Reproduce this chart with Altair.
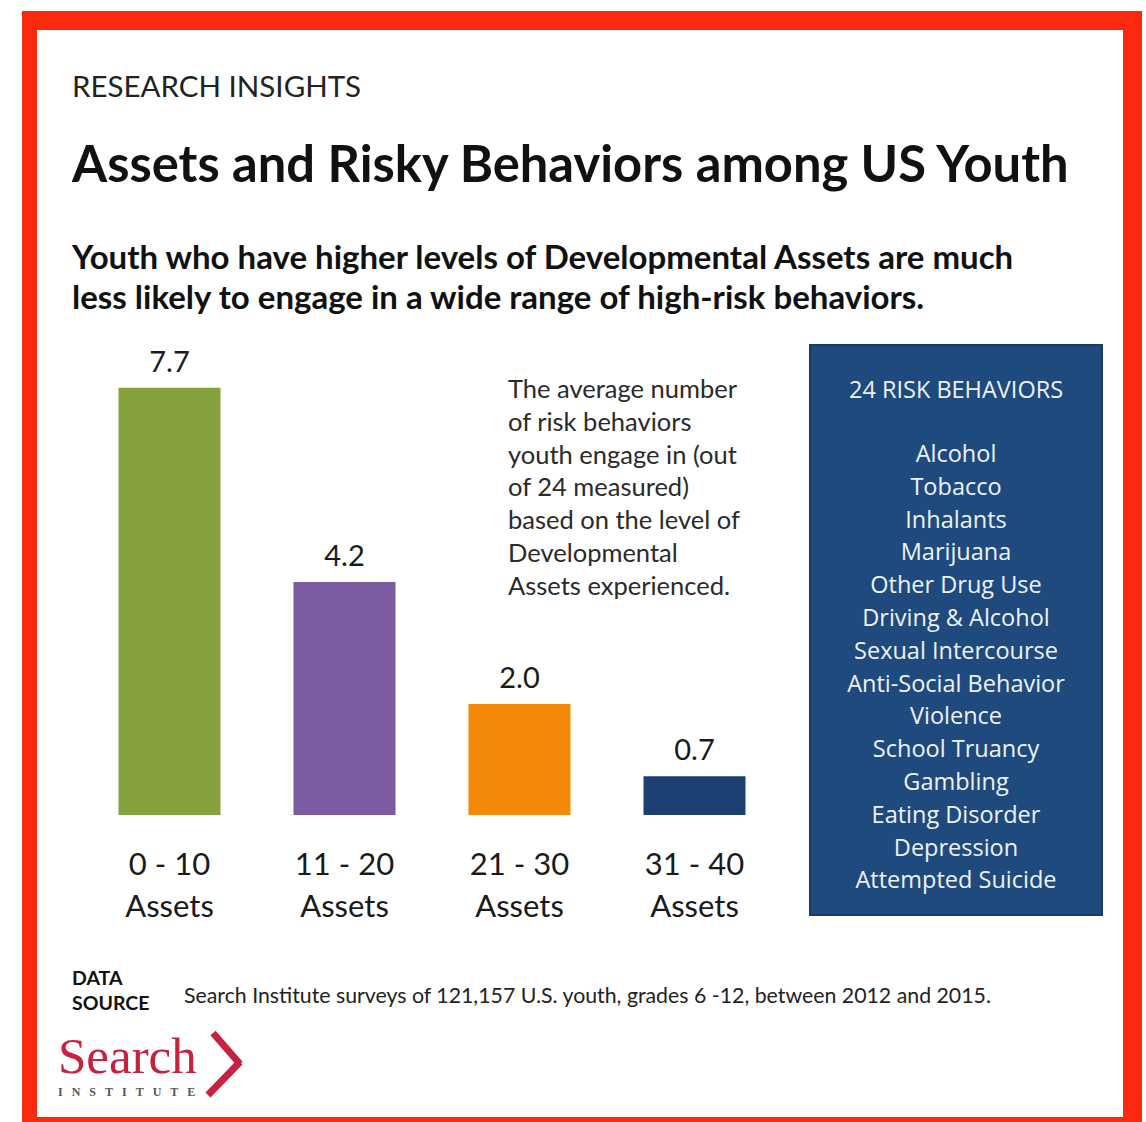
import altair as alt
import pandas as pd

# ---- data ----
groups = ["0 - 10", "11 - 20", "21 - 30", "31 - 40"]
unit_label = ["Assets", "Assets", "Assets", "Assets"]
avg_risk_behaviors = [7.7, 4.2, 2.0, 0.7]
bar_colors = ["#85a23f", "#7b5ca1", "#f48a0a", "#1e3f72"]

risk_behaviors = [
    "Alcohol", "Tobacco", "Inhalants", "Marijuana", "Other Drug Use",
    "Driving & Alcohol", "Sexual Intercourse", "Anti-Social Behavior",
    "Violence", "School Truancy", "Gambling", "Eating Disorder",
    "Depression", "Attempted Suicide",
]

note_lines = [
    "The average number",
    "of risk behaviors",
    "youth engage in (out",
    "of 24 measured)",
    "based on the level of",
    "Developmental",
    "Assets experienced.",
]

kicker = "RESEARCH INSIGHTS"
title = "Assets and Risky Behaviors among US Youth"
subtitle = [
    "Youth who have higher levels of Developmental Assets are much",
    "less likely to engage in a wide range of high-risk behaviors.",
]
source_text = "Search Institute surveys of 121,157 U.S. youth, grades 6 -12, between 2012 and 2015."

df = pd.DataFrame({
    "group": groups,
    "unit": unit_label,
    "value": avg_risk_behaviors,
    "color": bar_colors,
})

SANS = "Lato"
BOX_FONT = "Open Sans"
SERIF = "Liberation Serif"
RED = "#fb2a0e"
CRIMSON = "#c8203f"

one = alt.Data(values=[{}])


def rect(x, x2, y, y2, fill, stroke=None, sw=0):
    kw = dict(fill=fill)
    if stroke:
        kw.update(stroke=stroke, strokeWidth=sw)
    return alt.Chart(one).mark_rect(**kw).encode(
        x=alt.value(x), x2=alt.value(x2), y=alt.value(y), y2=alt.value(y2)
    )


def label(txt, x, y, size, weight="normal", color="#1a1a1a", align="left",
          font=SANS, line_height=None):
    kw = dict(text=txt, align=align, baseline="alphabetic", font=font,
              fontSize=size, fontWeight=weight, color=color)
    if line_height:
        kw["lineHeight"] = line_height
    return alt.Chart(one).mark_text(**kw).encode(x=alt.value(x), y=alt.value(y))


# ---- frame ----
frame_outer = rect(-60, 1060, -360, 760, RED)
frame_inner = rect(-45, 1041, -341, 746, "#ffffff")

# ---- risk behavior panel ----
panel = rect(728, 1020, -26, 544, "#1f4a7e", stroke="#163a66", sw=2)
panel_title = label("24 RISK BEHAVIORS", 874, 27, 23.5, color="#eef2f7",
                    align="center", font=BOX_FONT)
panel_list = label(risk_behaviors, 874, 91, 23.5, color="#eef2f7",
                   align="center", font=BOX_FONT, line_height=32.8)

# ---- bars ----
x_enc = alt.X(
    "group:N", sort=groups,
    scale=alt.Scale(paddingInner=0, paddingOuter=0),
    axis=alt.Axis(title=None, labels=False, domain=True, domainColor="#a3a3a3",
                  domainWidth=1.5, ticks=True, tickBand="extent", tickSize=15,
                  tickColor="#a3a3a3", tickWidth=1.5, grid=False),
)
y_enc = alt.Y("value:Q", scale=alt.Scale(domain=[0, 8]), axis=None)

bars = alt.Chart(df).mark_bar(width=102).encode(
    x=x_enc, y=y_enc, color=alt.Color("color:N", scale=None)
)
values = alt.Chart(df).mark_text(
    baseline="alphabetic", dy=-16, font=SANS, fontSize=29, color="#1a1a1a"
).encode(x=alt.X("group:N", sort=groups), y="value:Q",
         text=alt.Text("value:Q", format=".1f"))
cat1 = alt.Chart(df).mark_text(
    baseline="alphabetic", font=SANS, fontSize=31, color="#1a1a1a"
).encode(x=alt.X("group:N", sort=groups), y=alt.value(504), text="group:N")
cat2 = alt.Chart(df).mark_text(
    baseline="alphabetic", font=SANS, fontSize=31, color="#1a1a1a"
).encode(x=alt.X("group:N", sort=groups), y=alt.value(546), text="unit:N")

# ---- titles and notes ----
kicker_t = label(kicker, -10, -274, 29.5, color="#222222")
title_t = label(title, -10, -189, 50.7, weight="bold", color="#111111")
subtitle_t = label(subtitle, -10, -102, 33, weight="bold", color="#111111",
                   line_height=40)
note_t = label(note_lines, 426, 27, 25.5, color="#2a2a2a", line_height=32.8)

data_lbl = label(["DATA", "SOURCE"], -10, 614, 19.5, weight="bold",
                 color="#111111", line_height=25)
source_t = label(source_text, 102, 632, 21.3, color="#222222")

# ---- logo ----
NBSP = "\u00a0"
institute = (NBSP * 3).join("INSTITUTE")
logo_word = label("Search", -24, 702, 51, color=CRIMSON, font=SERIF)
logo_sub = label(institute, -24, 725, 12, weight="bold", color="#555555",
                 font=SERIF)
chev_a = alt.Chart(one).mark_rule(color=CRIMSON, strokeWidth=7).encode(
    x=alt.value(131), y=alt.value(662), x2=alt.value(158), y2=alt.value(693))
chev_b = alt.Chart(one).mark_rule(color=CRIMSON, strokeWidth=7).encode(
    x=alt.value(158), y=alt.value(691), x2=alt.value(126), y2=alt.value(724))

chart = alt.layer(
    frame_outer, frame_inner, panel, panel_title, panel_list,
    bars, values, cat1, cat2,
    kicker_t, title_t, subtitle_t, note_t, data_lbl, source_t,
    logo_word, logo_sub, chev_a, chev_b,
).properties(
    width=700, height=444,
    autosize=alt.AutoSizeParams(type="none"),
    padding={"left": 82, "top": 371, "right": 364, "bottom": 307},
    background="#ffffff",
).configure_view(stroke=None)

chart.save("out.html", embed_options={"renderer": "svg", "actions": False})
